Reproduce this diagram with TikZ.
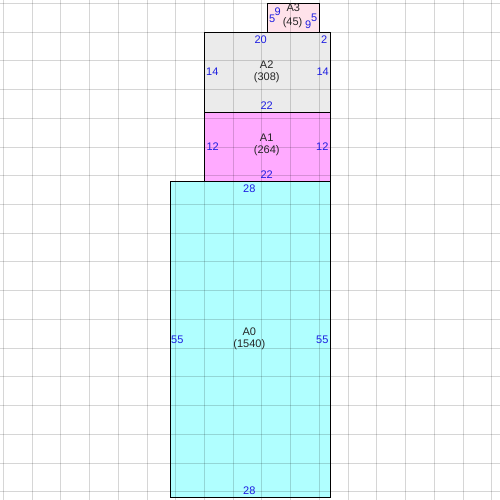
\documentclass[tikz,border=0pt]{standalone}
\usepackage{fontspec}
\setmainfont{Liberation Sans}
\begin{document}
\begin{tikzpicture}[x=1pt,y=-1pt,
  gridline/.style={black,opacity=0.16,line width=0.8pt},
  box/.style={draw=black,line width=0.9pt},
  dim/.style={text=dimblue,font=\fontsize{11}{12}\selectfont,inner sep=0pt},
  areaname/.style={text=black!85,font=\fontsize{11}{12}\selectfont,inner sep=0pt,align=center}]
\definecolor{dimblue}{RGB}{30,30,225}
\definecolor{cA0}{RGB}{176,255,255}
\definecolor{cA1}{RGB}{255,170,255}
\definecolor{cA2}{RGB}{235,235,235}
\definecolor{cA3}{RGB}{255,226,234}
\useasboundingbox (0,0) rectangle (500,500);
\fill[white] (0,0) rectangle (500,500);
% fills
\fill[cA0] (170.5,181.3) rectangle (330.3,497.3);
\fill[cA1] (204.3,112.3) rectangle (330.3,181.3);
\fill[cA2] (204.3,32.3) rectangle (330.3,112.3);
\fill[cA3] (267.3,3.3) rectangle (319.3,32.3);
% grid
\foreach \k in {0,...,17}{
  \draw[gridline] ({3.3+28.73*\k},0) -- ({3.3+28.73*\k},500);
  \draw[gridline] (0,{3.3+28.73*\k}) -- (500,{3.3+28.73*\k});
}
% borders
\draw[box] (170.5,181.3) rectangle (330.3,497.3);
\draw[box] (204.3,112.3) rectangle (330.3,181.3);
\draw[box] (204.3,32.3) rectangle (330.3,112.3);
\draw[box] (267.3,3.3) rectangle (319.3,32.3);
% A3
\node[areaname] (nA3) at (293.3,7.8) {A3};
\node[areaname] (aA3) at (292.6,22.3) {(45)};
\node[dim] (a3l5) at (272.3,18.3) {5};
\node[dim] (a3l9) at (277.7,11.5) {9};
\node[dim] (a3r9) at (308.3,24.5) {9};
\node[dim] (a3r5) at (314.3,17.3) {5};
% A2
\node[areaname] (nA2) at (266.7,71.3) {A2\\(308)};
\node[dim] (a2t20) at (260.7,39.3) {20};
\node[dim] (a2t2) at (324.3,39.3) {2};
\node[dim] (a2l) at (212.3,71.7) {14};
\node[dim] (a2r) at (322.7,71.7) {14};
\node[dim] (a2b) at (266.7,106) {22};
% A1
\node[areaname] (nA1) at (266.7,145.3) {A1\\(264)};
\node[dim] (a1l) at (212.7,146.7) {12};
\node[dim] (a1r) at (322.3,146.7) {12};
\node[dim] (a1b) at (266.7,175) {22};
% A0
\node[areaname] (nA0) at (249.3,338.3) {A0\\(1540)};
\node[dim] (a0t) at (249.3,188.3) {28};
\node[dim] (a0l) at (177.3,339.3) {55};
\node[dim] (a0r) at (322.3,339.3) {55};
\node[dim] (a0b) at (249.3,491) {28};
\end{tikzpicture}
\end{document}
